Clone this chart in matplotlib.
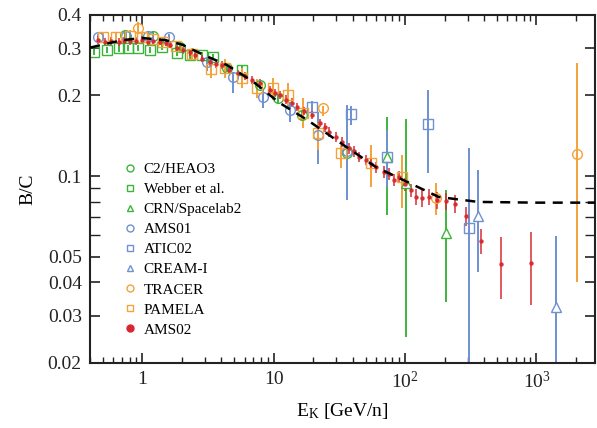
import numpy as np
import matplotlib
matplotlib.use("Agg")
import matplotlib.pyplot as plt
from matplotlib.lines import Line2D
from matplotlib.ticker import FixedLocator, FixedFormatter, NullFormatter

plt.rcParams['font.family'] = ['Liberation Serif', 'DejaVu Serif']
plt.rcParams['mathtext.fontset'] = 'custom'
plt.rcParams['mathtext.rm'] = 'Liberation Serif'
plt.rcParams['mathtext.it'] = 'Liberation Serif:italic'

GREEN = '#3cb43c'
BLUE = '#6f91d0'
ORANGE = '#f4a23a'
RED = '#d7282f'

# model curve (dashed)
model_e = [0.4, 0.5, 0.7, 1.0, 1.5, 2.0, 3.0, 4.4, 7.0, 11, 18, 36, 60, 95, 180, 360, 1000, 2800]
model_bc = [0.302, 0.31, 0.322, 0.328, 0.322, 0.31, 0.282, 0.26, 0.225, 0.188, 0.162, 0.128,
            0.108, 0.097, 0.0835, 0.080, 0.0795, 0.0795]

# C2/HEAO3
heao_e = [0.74, 1.21, 1.94, 4.4, 7.8, 10.7, 16.5, 35.8]
heao_bc = [0.337, 0.335, 0.304, 0.253, 0.219, 0.196, 0.169, 0.122]
heao_err = [0.012, 0.012, 0.011, 0.009, 0.008, 0.008, 0.008, 0.008]

# Webber et al.
webber_e = [0.43, 0.54, 0.66, 0.77, 0.93, 1.15, 1.42, 1.84, 2.3, 2.85, 3.45, 5.7]
webber_bc = [0.291, 0.296, 0.300, 0.301, 0.301, 0.296, 0.304, 0.289, 0.283, 0.283, 0.279, 0.250]
webber_err = [0.008] * 12

# CRN/Spacelab2
crn_e = [73.2, 101.5, 205]
crn_bc = [0.118, 0.094, 0.0612]
crn_lo = [0.0464, 0.0691, 0.0274]
crn_hi = [0.048, 0.070, 0.0275]

# AMS01
ams01_e = [0.46, 0.75, 1.1, 1.6, 3.1, 4.9, 8.3, 13.2, 21.6, 35.8]
ams01_bc = [0.331, 0.335, 0.335, 0.33, 0.267, 0.235, 0.197, 0.177, 0.142, 0.124]
ams01_lo = [0.01, 0.01, 0.01, 0.01, 0.02, 0.03, 0.018, 0.018, 0.031, 0.043]
ams01_hi = [0.01, 0.01, 0.01, 0.01, 0.01, 0.01, 0.012, 0.012, 0.031, 0.060]

# ATIC02
atic_e = [19.7, 38.4, 73.2, 149, 305]
atic_bc = [0.181, 0.170, 0.118, 0.156, 0.0639]
atic_lo = [0.012, 0.015, 0.027, 0.053, 0.049]
atic_hi = [0.010, 0.013, 0.030, 0.053, 0.063]

# CREAM-I
cream_e = [358, 1419]
cream_bc = [0.0709, 0.0325]
cream_lo = [0.0271, 0.018]
cream_hi = [0.034, 0.0273]

# TRACER
tracer_e = [0.92, 23.5, 172, 2048]
tracer_bc = [0.358, 0.18, 0.083, 0.121]
tracer_lo = [0.015, 0.012, 0.0113, 0.081]
tracer_hi = [0.02, 0.003, 0.011, 0.144]

# PAMELA
pamela_e = [0.5, 0.63, 0.8, 1.0, 1.2, 1.44, 1.8, 2.4, 3.3, 4.25, 5.7, 7.5, 9.8, 12.8, 16.6,
            21.9, 32.6, 55.3, 94.6]
pamela_bc = [0.331, 0.33, 0.335, 0.33, 0.325, 0.317, 0.305, 0.285, 0.252, 0.253, 0.233, 0.213,
             0.213, 0.2, 0.172, 0.145, 0.122, 0.112, 0.099]
pamela_lo = [0.012, 0.012, 0.012, 0.012, 0.012, 0.012, 0.012, 0.014, 0.02, 0.02, 0.02, 0.018,
             0.02, 0.02, 0.021, 0.02, 0.015, 0.021, 0.023]
pamela_hi = [0.015, 0.015, 0.015, 0.015, 0.015, 0.015, 0.015, 0.015, 0.02, 0.02, 0.02, 0.018,
             0.02, 0.023, 0.024, 0.013, 0.009, 0.019, 0.021]

# AMS02
ams02_e = [0.46, 0.52, 0.58, 0.66, 0.73, 0.81, 0.90, 1.00, 1.10, 1.20,
           1.37, 1.50, 1.62, 1.84, 2.05, 2.30, 2.52, 2.85, 3.27, 3.65,
           4.03, 4.60, 5.30, 6.00, 6.80, 7.80, 9.30, 10.2, 11.1, 12.4,
           13.7, 14.9, 17.0, 19.4, 22.4, 24.5, 26.5, 30.0, 33.0, 37.6,
           41.0, 44.8, 50.6, 55.0, 60.3, 69.0, 75.5, 82.6, 90.0, 100,
           111, 121, 134, 151, 175, 205, 239, 290, 376, 534,
           916]
ams02_bc = [0.322, 0.318, 0.320, 0.317, 0.320, 0.319, 0.320, 0.322, 0.318, 0.320,
            0.318, 0.315, 0.310, 0.301, 0.295, 0.290, 0.283, 0.275, 0.267, 0.262,
            0.260, 0.249, 0.242, 0.236, 0.229, 0.223, 0.210, 0.205, 0.201, 0.193,
            0.188, 0.181, 0.175, 0.169, 0.158, 0.152, 0.146, 0.140, 0.134, 0.127,
            0.124, 0.118, 0.115, 0.111, 0.108, 0.1036, 0.102, 0.0966, 0.099, 0.093,
            0.0887, 0.0836, 0.0829, 0.0836, 0.0813, 0.0807, 0.0786, 0.0709, 0.0572, 0.0469,
            0.0473]
ams02_err = [0.011, 0.011, 0.011, 0.011, 0.011, 0.011, 0.011, 0.011, 0.011, 0.011,
             0.010, 0.010, 0.010, 0.010, 0.009, 0.009, 0.009, 0.009, 0.009, 0.009,
             0.009, 0.008, 0.008, 0.008, 0.008, 0.008, 0.007, 0.007, 0.007, 0.007,
             0.007, 0.006, 0.006, 0.006, 0.006, 0.006, 0.006, 0.006, 0.006, 0.006,
             0.006, 0.005, 0.005, 0.005, 0.005, 0.005, 0.005, 0.005, 0.005, 0.005,
             0.005, 0.006, 0.006, 0.006, 0.006, 0.006, 0.006, 0.006, 0.0063, 0.0122,
             0.0144]

fig = plt.figure(figsize=(5.97, 4.28), dpi=100)
ax = fig.add_axes([0.151, 0.152, 0.846, 0.813])

ebar = dict(capsize=0, elinewidth=1.4, markeredgewidth=1.0, markersize=7, linestyle='none')

ax.errorbar(webber_e, webber_bc, yerr=webber_err, fmt='s', color=GREEN, mfc='none', **ebar)
ax.errorbar(heao_e, heao_bc, yerr=heao_err, fmt='o', color=GREEN, mfc='none', **ebar)
ax.errorbar(crn_e, crn_bc, yerr=[crn_lo, crn_hi], fmt='^', color=GREEN, mfc='white', **ebar)
ax.errorbar(ams01_e, ams01_bc, yerr=[ams01_lo, ams01_hi], fmt='o', color=BLUE, mfc='none', **ebar)
ax.errorbar(atic_e, atic_bc, yerr=[atic_lo, atic_hi], fmt='s', color=BLUE, mfc='none', **ebar)
ax.errorbar(cream_e, cream_bc, yerr=[cream_lo, cream_hi], fmt='^', color=BLUE, mfc='white', **ebar)
ax.errorbar(pamela_e, pamela_bc, yerr=[pamela_lo, pamela_hi], fmt='s', color=ORANGE, mfc='none', **ebar)
ax.errorbar(tracer_e, tracer_bc, yerr=[tracer_lo, tracer_hi], fmt='o', color=ORANGE, mfc='none', **ebar)
ax.errorbar(ams02_e, ams02_bc, yerr=ams02_err, fmt='o', color=RED, markersize=2.2,
            elinewidth=1.2, capsize=0, linestyle='none', alpha=0.9)

ax.plot(model_e, model_bc, color='black', lw=1.8, dashes=(4, 3), zorder=5)

ax.set_xscale('log')
ax.set_yscale('log')
ax.set_xlim(0.4, 2800)
ax.set_ylim(0.02, 0.4)

ax.xaxis.set_major_locator(FixedLocator([1, 10, 100, 1000]))
ax.xaxis.set_major_formatter(FixedFormatter(['1', '10', r'$10^2$', r'$10^3$']))
ax.yaxis.set_major_locator(FixedLocator([0.02, 0.03, 0.04, 0.05, 0.1, 0.2, 0.3, 0.4]))
ax.yaxis.set_major_formatter(FixedFormatter(['0.02', '0.03', '0.04', '0.05', '0.1', '0.2', '0.3', '0.4']))
ax.yaxis.set_minor_locator(FixedLocator([0.06, 0.07, 0.08, 0.09]))
ax.yaxis.set_minor_formatter(NullFormatter())

ax.tick_params(which='both', direction='in', top=True, right=True, labelsize=14, colors='#222222')
ax.tick_params(which='major', length=7, width=1.2, pad=6)
ax.tick_params(which='minor', length=4, width=1.0)
ax.tick_params(axis='y', which='minor', length=7)
for s in ax.spines.values():
    s.set_linewidth(1.5)
    s.set_color('#222222')

ax.set_xlabel(r'E$_{\rm K}$ [GeV/n]', fontsize=14, labelpad=6)
ax.set_ylabel('B/C', fontsize=14, labelpad=8)

handles = [
    Line2D([], [], marker='o', color=GREEN, mfc='none', ls='none', ms=5),
    Line2D([], [], marker='s', color=GREEN, mfc='none', ls='none', ms=5),
    Line2D([], [], marker='^', color=GREEN, mfc='none', ls='none', ms=5),
    Line2D([], [], marker='o', color=BLUE, mfc='none', ls='none', ms=5),
    Line2D([], [], marker='s', color=BLUE, mfc='none', ls='none', ms=5),
    Line2D([], [], marker='^', color=BLUE, mfc='none', ls='none', ms=5),
    Line2D([], [], marker='o', color=ORANGE, mfc='none', ls='none', ms=5),
    Line2D([], [], marker='s', color=ORANGE, mfc='none', ls='none', ms=5),
    Line2D([], [], marker='o', color=RED, ls='none', ms=5),
]
labels = ['C2/HEAO3', 'Webber et al.', 'CRN/Spacelab2', 'AMS01', 'ATIC02',
          'CREAM-I', 'TRACER', 'PAMELA', 'AMS02']
ax.legend(handles, labels, loc='upper left', bbox_to_anchor=(0.067, 0.577), frameon=False,
          fontsize=11, handlelength=0.8, handletextpad=0.5, labelspacing=0.42,
          borderaxespad=0, borderpad=0)

fig.savefig('out.png', dpi=100)
